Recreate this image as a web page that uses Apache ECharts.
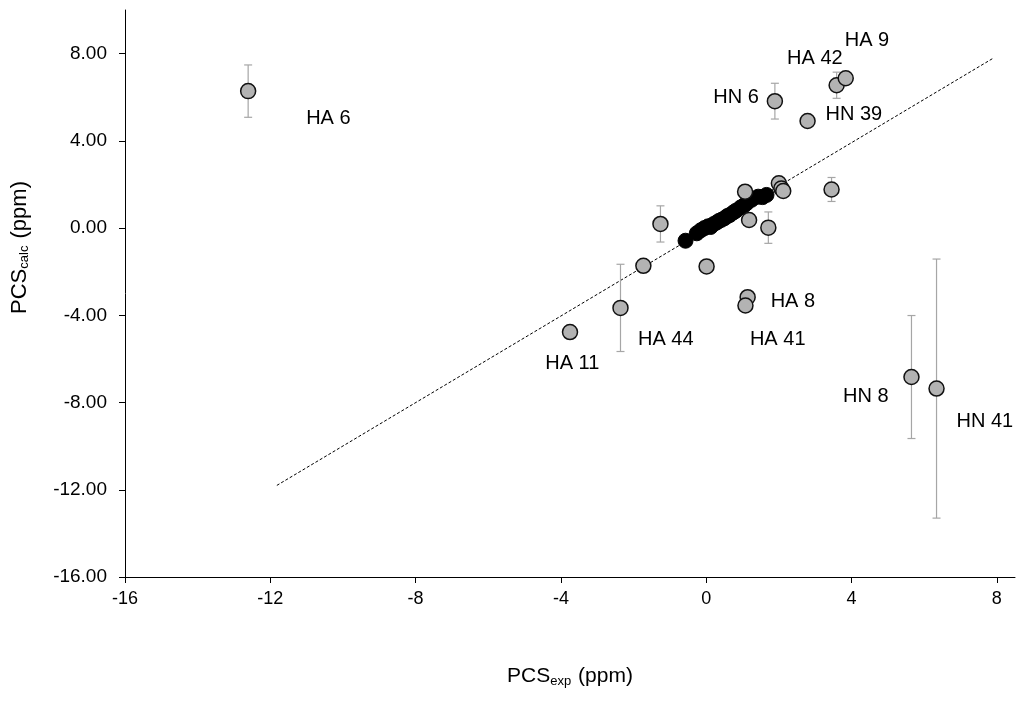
<!DOCTYPE html>
<html>
<head>
<meta charset="utf-8">
<script src="https://cdn.jsdelivr.net/npm/echarts@6/dist/echarts.min.js"></script>
<style>
html,body{margin:0;padding:0;background:#fff;}
#c{width:1026px;height:702px;}
</style>
</head>
<body>
<div id="c"></div>
<script>
// ---- data ----
const xTicks = [-16, -12, -8, -4, 0, 4, 8];
const yTicks = [-16, -12, -8, -4, 0, 4, 8];

// grey points (PCSexp, PCScalc, error, label)
const greyX   = [-12.61, 1.89, 3.59, 3.84, 2.79, 1.07, 2.00, 2.07, 2.12, 3.45, -1.26, 1.18, 1.71, -1.73, 0.01, 1.14, 1.08, -2.36, -3.75, 5.65, 6.34];
const greyY   = [6.28, 5.82, 6.55, 6.87, 4.91, 1.67, 2.05, 1.82, 1.70, 1.77, 0.19, 0.37, 0.02, -1.73, -1.76, -3.17, -3.55, -3.66, -4.77, -6.83, -7.36];
const greyErr = [1.2, 0.82, 0.6, 0, 0, 0, 0, 0, 0, 0.55, 0.83, 0, 0.72, 0, 0, 0, 0, 2.0, 0, 2.82, 5.94];
const greyLab = ['HA 6', 'HN 6', 'HA 42', 'HA 9', 'HN 39', '', '', '', '', '', '', '', '', '', '', 'HA 8', 'HA 41', 'HA 44', 'HA 11', 'HN 8', 'HN 41'];

// black points
const blackX = [-0.57, -0.26, -0.15, -0.05, 0.05, 0.12, 0.20, 0.28, 0.35, 0.42, 0.50, 0.58, 0.65, 0.75, 0.82, 0.95, 1.05, 1.12, 1.25, 1.43, 1.55, 1.66];
const blackY = [-0.58, -0.24, -0.10, 0.00, 0.08, 0.05, 0.18, 0.25, 0.33, 0.38, 0.45, 0.55, 0.60, 0.72, 0.80, 0.95, 1.05, 1.15, 1.30, 1.44, 1.42, 1.52];

// trend line endpoints
const trendX = [-11.82, 7.89];
const trendY = [-11.80, 7.78];

// ---- label placement (pixel offsets from point centre) ----
const labelOffset = {
  'HA 6': [81, 28], 'HN 6': [-38, -3], 'HA 42': [-21, -26], 'HA 9': [22, -37],
  'HN 39': [47, -6], 'HA 8': [46, 5], 'HA 41': [33, 35], 'HA 44': [46, 32],
  'HA 11': [3, 32], 'HN 8': [-45, 20], 'HN 41': [49, 34]
};
const SYM = 15;

const greyData = greyX.map((x, i) => {
  const d = { value: [x, greyY[i]], name: greyLab[i] };
  if (greyLab[i]) {
    const o = labelOffset[greyLab[i]];
    d.label = { show: true, position: [SYM / 2 + o[0], SYM / 2 + o[1]], align: 'center', verticalAlign: 'middle', formatter: '{b}' };
  }
  return d;
});
const errData = greyX.map((x, i) => [x, greyY[i], greyErr[i]]).filter(d => d[2] > 0);
const blackData = blackX.map((x, i) => [x, blackY[i]]);
const trendData = trendX.map((x, i) => [x, trendY[i]]);

const FONT = '"Liberation Sans", Arial, sans-serif';
const chart = echarts.init(document.getElementById('c'));
chart.setOption({
  animation: false,
  backgroundColor: '#fff',
  grid: { left: 125, right: 11, top: 10, bottom: 125, containLabel: false },
  xAxis: {
    type: 'value', min: -16, max: 8.5, interval: 4,
    splitLine: { show: false },
    axisLine: { onZero: false, lineStyle: { color: '#000', width: 1 } },
    axisTick: { show: true, length: 6, inside: false, customValues: xTicks, lineStyle: { color: '#000' } },
    axisLabel: { customValues: xTicks, color: '#000', fontSize: 18, margin: 13,
      fontFamily: '"Liberation Sans Narrow", "Arial Narrow", ' + FONT,
      formatter: v => String(v) },
    name: '{m|PCS}{s|exp}{m| (ppm)}', nameLocation: 'middle', nameGap: 88,
    nameTextStyle: { rich: {
      m: { fontSize: 21, color: '#000', fontFamily: FONT },
      s: { fontSize: 13, color: '#000', fontFamily: FONT, verticalAlign: 'bottom', padding: [10, 1, 0, 0] }
    } }
  },
  yAxis: {
    type: 'value', min: -16, max: 10, interval: 4,
    splitLine: { show: false },
    axisLine: { onZero: false, lineStyle: { color: '#000', width: 1 } },
    axisTick: { show: true, length: 6, inside: false, customValues: yTicks, lineStyle: { color: '#000' } },
    axisLabel: { customValues: yTicks, color: '#000', fontSize: 19, margin: 18,
      fontFamily: FONT,
      formatter: v => v.toFixed(2) },
    name: '{m|PCS}{s|calc}{m| (ppm)}', nameLocation: 'middle', nameGap: 94, nameRotate: 90,
    nameTextStyle: { padding: [0, 0, 0, 92], rich: {
      m: { fontSize: 22, color: '#000', fontFamily: FONT },
      s: { fontSize: 13, color: '#000', fontFamily: FONT, verticalAlign: 'bottom', padding: [10, 1, 0, 0] }
    } }
  },
  series: [
    {
      type: 'line', data: trendData, symbol: 'none', silent: true, z: 1,
      lineStyle: { color: '#000', width: 1, type: [3, 2] }
    },
    {
      type: 'custom', data: errData, z: 2, silent: true,
      renderItem: function (params, api) {
        const x = api.value(0), y = api.value(1), e = api.value(2);
        const top = api.coord([x, y + e]);
        const bot = api.coord([x, y - e]);
        const cap = 4;
        const style = { stroke: '#a6a6a6', lineWidth: 1.2 };
        return { type: 'group', children: [
          { type: 'line', shape: { x1: top[0], y1: top[1], x2: bot[0], y2: bot[1] }, style },
          { type: 'line', shape: { x1: top[0] - cap, y1: top[1], x2: top[0] + cap, y2: top[1] }, style },
          { type: 'line', shape: { x1: bot[0] - cap, y1: bot[1], x2: bot[0] + cap, y2: bot[1] }, style }
        ] };
      }
    },
    {
      type: 'scatter', data: blackData, symbolSize: SYM, z: 3,
      itemStyle: { color: '#000', borderColor: '#000', borderWidth: 1, opacity: 1 }
    },
    {
      type: 'scatter', data: greyData, symbolSize: SYM, z: 4,
      itemStyle: { color: '#b3b3b3', borderColor: '#111', borderWidth: 1.5, opacity: 1 },
      label: { show: false, color: '#000', fontSize: 20, fontFamily: FONT }
    }
  ]
});
</script>
</body>
</html>
